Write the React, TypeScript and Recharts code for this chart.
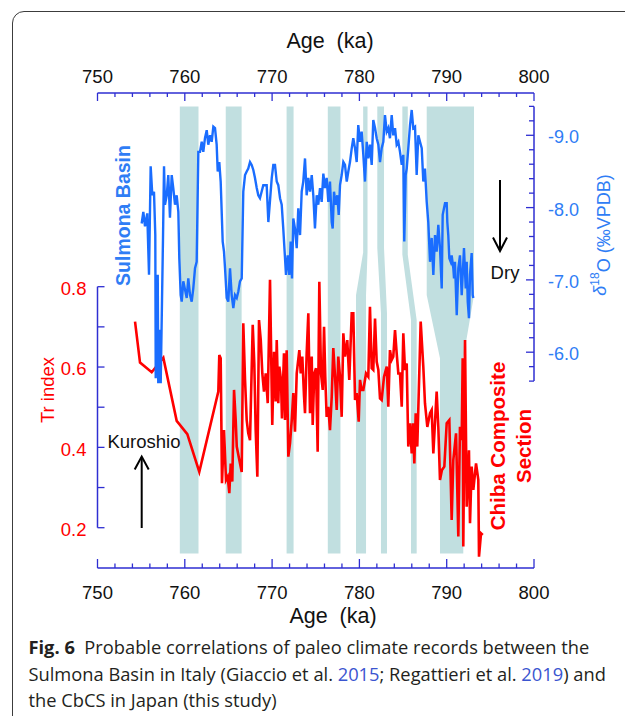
import React from "react";
import { ComposedChart, Line, XAxis, YAxis, ReferenceArea, ReferenceLine } from "recharts";

// ---- axis ticks ----
const AGE_TICKS = [750, 752, 754, 756, 758, 760, 762, 764, 766, 768, 770, 772, 774, 776, 778, 780, 782, 784, 786, 788, 790, 792, 794, 796, 798, 800];
const TR_TICKS = [0.2, 0.3, 0.4, 0.5, 0.6, 0.7, 0.8];
const D18O_TICKS = [-9.4, -9.2, -9.0, -8.8, -8.6, -8.4, -8.2, -8.0, -7.8, -7.6, -7.4, -7.2, -7.0, -6.8, -6.6, -6.4, -6.2, -6.0, -5.8, -5.6];

// ---- Sulmona Basin d18O (ka, permil VPDB) ----
const SULMONA_AGE = [
  755.06, 755.25, 755.44, 755.7, 755.9, 756.09, 756.28, 756.47, 756.62, 756.67,
  756.78, 756.9, 756.96, 757.08, 757.24, 757.39, 757.5, 757.62, 757.73, 757.93,
  758.11, 758.3, 758.5, 758.68, 758.88, 759.07, 759.26, 759.37, 759.53, 759.65,
  759.83, 760.22, 760.4, 760.6, 760.79, 760.97, 761.17, 761.36, 761.55, 761.74,
  761.94, 762.12, 762.31, 762.51, 762.69, 762.89, 763.08, 763.27, 763.46, 763.65,
  763.77, 763.95, 764.11, 764.34, 764.49, 764.61, 764.8, 764.98, 765.18, 765.37,
  765.56, 765.75, 765.95, 766.13, 766.32, 766.52, 766.7, 766.9, 767.09, 767.27,
  767.47, 767.66, 767.85, 768.04, 768.24, 768.42, 768.61, 768.99, 769.38, 769.57,
  769.96, 770.14, 770.33, 770.53, 770.71, 770.91, 771.1, 771.28, 771.48, 771.59,
  771.79, 771.97, 772.13, 772.28, 772.43, 772.62, 772.82, 773.0, 773.2, 773.39,
  773.57, 773.77, 773.96, 774.15, 774.34, 774.54, 774.72, 774.91, 775.11, 775.29,
  775.49, 775.68, 775.87, 776.06, 776.25, 776.44, 776.63, 776.83, 776.94, 777.09,
  777.29, 777.47, 777.63, 777.78, 777.97, 778.16, 778.35, 778.55, 778.73, 778.92,
  779.12, 779.3, 779.5, 779.69, 779.87, 780.07, 780.26, 780.45, 780.64, 780.84,
  781.02, 781.21, 781.41, 781.59, 781.79, 781.98, 782.17, 782.36, 782.55, 782.74,
  782.93, 783.13, 783.31, 783.5, 783.7, 783.88, 784.08, 784.27, 784.46, 784.65,
  784.85, 785.03, 785.14, 785.3, 785.42, 785.6, 785.8, 785.99, 786.17, 786.37,
  786.56, 786.75, 786.94, 787.14, 787.32, 787.51, 787.71, 787.89, 788.09, 788.28,
  788.47, 788.66, 788.85, 789.04, 789.23, 789.43, 789.54, 789.69, 789.81, 790.0,
  790.07, 790.18, 790.3, 790.46, 790.57, 790.76, 790.84, 790.95, 791.15, 791.33,
  791.52, 791.72, 791.83, 791.98, 792.18, 792.29, 792.41, 792.55, 792.67, 792.86,
  792.98, 793.05,
];
const SULMONA_D18O = [
  -7.78, -7.94, -7.74, -7.92, -7.07, -8.57, -8.17, -8.22, -7.62, -5.64,
  -6.38, -7.07, -5.57, -6.31, -5.57, -6.72, -7.55, -8.57, -8.04, -8.17,
  -8.45, -7.86, -8.45, -8.27, -8.04, -8.17, -7.94, -7.3, -6.79, -6.7,
  -6.98, -6.75, -7.02, -6.79, -6.7, -6.88, -7.16, -7.25, -8.77, -8.77,
  -8.91, -8.77, -8.96, -9.07, -8.87, -9.0, -8.91, -9.12, -9.1, -8.87,
  -8.5, -8.63, -8.36, -7.53, -7.39, -7.16, -6.75, -6.7, -7.16, -6.79,
  -6.61, -6.79, -6.75, -6.84, -6.98, -7.02, -8.22, -8.45, -8.5, -8.54,
  -8.63, -8.59, -8.52, -8.41, -8.27, -8.17, -8.13, -8.31, -8.31, -7.8,
  -8.41, -8.59, -8.59, -8.36, -8.31, -8.13, -8.04, -7.71, -7.3, -7.07,
  -7.34, -7.07, -7.53, -7.02, -7.85, -7.71, -7.44, -7.99, -7.62, -8.22,
  -8.36, -8.68, -8.17, -8.41, -8.22, -8.45, -8.17, -7.71, -8.17, -8.04,
  -8.27, -8.08, -8.47, -8.27, -8.41, -8.08, -8.36, -7.8, -7.71, -8.22,
  -8.04, -8.17, -7.9, -8.31, -8.45, -8.63, -8.59, -8.36, -8.5, -8.63,
  -8.82, -8.96, -8.82, -8.63, -9.14, -8.91, -9.05, -8.73, -8.36, -8.91,
  -8.68, -8.87, -8.59, -9.21, -9.1, -8.96, -8.87, -8.63, -8.82, -8.91,
  -9.28, -9.05, -9.1, -8.96, -9.28, -9.0, -9.1, -8.87, -8.91, -8.77,
  -8.59, -8.73, -7.53, -8.45, -8.54, -8.82, -9.14, -9.35, -9.1, -9.12,
  -8.45, -9.0, -8.91, -8.82, -8.36, -8.54, -8.08, -7.8, -7.25, -7.58,
  -7.07, -7.62, -7.39, -7.76, -7.44, -6.88, -7.9, -7.99, -8.06, -8.06,
  -7.8, -7.62, -7.3, -7.25, -7.34, -7.16, -7.02, -7.25, -6.51, -7.16,
  -7.34, -6.79, -7.07, -7.44, -6.88, -7.25, -6.7, -6.47, -7.07, -7.37,
  -6.79, -6.75,
];

// ---- Chiba Composite Section Tr index ----
const CHIBA_AGE = [
  754.3, 754.87, 756.21, 757.54, 759.07, 760.29, 761.66, 763.84, 763.95, 764.11,
  764.26, 764.49, 764.72, 764.91, 765.1, 765.26, 765.44, 765.64, 765.83, 765.95,
  766.24, 766.52, 766.7, 766.9, 767.09, 767.27, 767.47, 767.78, 767.96, 768.12,
  768.31, 768.5, 768.7, 768.88, 769.07, 769.27, 769.5, 769.76, 770.02, 770.22,
  770.41, 770.53, 770.71, 770.83, 771.02, 771.13, 771.36, 771.48, 771.67, 771.86,
  772.05, 772.25, 772.43, 772.62, 772.82, 773.12, 773.28, 773.46, 773.66, 773.77,
  773.96, 774.15, 774.34, 774.54, 774.65, 774.83, 775.03, 775.22, 775.41, 775.6,
  775.8, 775.95, 776.09, 776.25, 776.44, 776.63, 776.83, 777.01, 777.21, 777.4,
  777.58, 777.78, 777.97, 778.16, 778.35, 778.61, 778.84, 779.12, 779.3, 779.5,
  779.69, 779.92, 780.07, 780.26, 780.45, 780.76, 781.02, 781.21, 781.41, 781.59,
  781.79, 781.98, 782.17, 782.36, 782.55, 782.82, 783.13, 783.31, 783.5, 783.7,
  783.88, 784.08, 784.27, 784.46, 784.65, 784.85, 785.03, 785.22, 785.42, 785.6,
  785.8, 785.99, 786.14, 786.29, 786.45, 786.63, 787.02, 787.32, 787.51, 787.78,
  788.09, 788.28, 788.47, 788.85, 789.04, 789.23, 789.46, 789.73, 790.0, 790.3,
  790.57, 790.76, 791.07, 791.33, 791.52, 791.72, 791.83, 791.9, 792.1, 792.29,
  792.55, 792.67, 792.86, 793.05, 793.36, 793.62, 793.7, 793.93, 794.13,
];
const CHIBA_TR = [
  0.713, 0.611, 0.587, 0.623, 0.466, 0.433, 0.339, 0.539, 0.63, 0.622,
  0.311, 0.443, 0.319, 0.327, 0.286, 0.36, 0.315, 0.543, 0.468, 0.402,
  0.369, 0.339, 0.709, 0.568, 0.468, 0.435, 0.418, 0.705, 0.609, 0.443,
  0.327, 0.717, 0.667, 0.584, 0.539, 0.584, 0.51, 0.817, 0.456, 0.638,
  0.514, 0.667, 0.51, 0.601, 0.568, 0.472, 0.634, 0.468, 0.642, 0.377,
  0.41, 0.468, 0.535, 0.439, 0.584, 0.642, 0.584, 0.626, 0.526, 0.485,
  0.634, 0.734, 0.485, 0.626, 0.456, 0.584, 0.597, 0.389, 0.812, 0.584,
  0.543, 0.7, 0.576, 0.476, 0.501, 0.443, 0.526, 0.647, 0.576, 0.493,
  0.626, 0.576, 0.476, 0.684, 0.626, 0.667, 0.568, 0.734, 0.734, 0.518,
  0.535, 0.464, 0.568, 0.543, 0.543, 0.584, 0.576, 0.75, 0.597, 0.593,
  0.721, 0.613, 0.593, 0.522, 0.518, 0.576, 0.601, 0.501, 0.642, 0.618,
  0.626, 0.692, 0.634, 0.584, 0.584, 0.501, 0.684, 0.593, 0.609, 0.402,
  0.46, 0.385, 0.46, 0.36, 0.485, 0.402, 0.713, 0.601, 0.51, 0.451,
  0.485, 0.493, 0.385, 0.539, 0.451, 0.319, 0.344, 0.352, 0.46, 0.468,
  0.219, 0.369, 0.435, 0.178, 0.451, 0.418, 0.622, 0.153, 0.667, 0.252,
  0.393, 0.211, 0.352, 0.294, 0.36, 0.319, 0.128, 0.186, 0.182,
];

// ---- correlation bands (ka on each record, plus where the band bends) ----
const BAND_SULMONA_FROM = [759.43, 764.69, 771.66, 776.38, 780.43, 782.05, 784.92, 787.71];
const BAND_SULMONA_TO = [761.57, 766.51, 772.46, 777.83, 780.93, 782.82, 785.54, 793.13];
const BAND_CHIBA_FROM = [759.43, 764.69, 771.66, 776.38, 779.61, 782.47, 785.91, 789.23];
const BAND_CHIBA_TO = [761.57, 766.51, 772.46, 777.83, 780.76, 783.16, 786.56, 791.9];
const BAND_BEND_D18O = [-7.0, -7.0, -7.0, -7.0, -7.38, -7.44, -7.35, -6.79];
const BAND_BEND_TR = [0.8, 0.8, 0.8, 0.8, 0.779, 0.734, 0.717, 0.622];
const BAND_TOP_D18O = -9.4;
const BAND_BASE_TR = 0.136;

const TR_DOMAIN = [0.0997, 1.2822];
const D18O_DOMAIN = [-9.585, -3.015];

const sulmona = SULMONA_AGE.map((age, i) => ({ age, d18o: SULMONA_D18O[i] }));
const chiba = CHIBA_AGE.map((age, i) => ({ age, tr: CHIBA_TR[i] }));

const AXIS = "#2e2ed2";
const BLUE = "#1a6dff";
const BLUE_TEXT = "#2f7df5";
const RED = "#ff0000";
const BAND = "#c1dfe0";
const FONT = "'Liberation Sans', Arial, Helvetica, sans-serif";

function TopTick(p: any) {
  const { x, y, payload } = p;
  const major = payload.value % 10 === 0;
  return (
    <g>
      <line x1={x} y1={y} x2={x} y2={y + (major ? 8 : 4)} stroke={AXIS} strokeWidth={1.3} />
      {major && (
        <text x={x} y={y - 17} dy="0.36em" textAnchor="middle" fontSize={18.5} fill="#111" fontFamily={FONT}>
          {payload.value}
        </text>
      )}
    </g>
  );
}

function BottomTick(p: any) {
  const { x, y, payload } = p;
  const major = payload.value % 10 === 0;
  return (
    <g>
      <line x1={x} y1={y} x2={x} y2={y - (major ? 9 : 4.5)} stroke={AXIS} strokeWidth={1.3} />
      {major && (
        <text x={x} y={y + 24} dy="0.36em" textAnchor="middle" fontSize={18.5} fill="#111" fontFamily={FONT}>
          {payload.value}
        </text>
      )}
    </g>
  );
}

function TrTick(p: any) {
  const { x, y, payload } = p;
  const v = payload.value;
  const labelled = Math.round(v * 10) % 2 === 0;
  return (
    <g>
      <line x1={x} y1={y} x2={x + 7} y2={y} stroke={AXIS} strokeWidth={1.3} />
      {labelled && (
        <text x={x - 11} y={y + 1.5} dy="0.36em" textAnchor="end" fontSize={18.5} fill={RED} fontFamily={FONT}>
          {v.toFixed(1)}
        </text>
      )}
    </g>
  );
}

function D18oTick(p: any) {
  const { x, y, payload } = p;
  const v = payload.value;
  const major = Math.abs(v - Math.round(v)) < 1e-6;
  return (
    <g>
      <line x1={x} y1={y} x2={x - (major ? 8 : 5)} y2={y} stroke={AXIS} strokeWidth={1.3} />
      {major && (
        <text x={x + 14} y={y + 1.5} dy="0.36em" textAnchor="start" fontSize={18} fill={BLUE_TEXT} fontFamily={FONT}>
          {v.toFixed(1)}
        </text>
      )}
    </g>
  );
}

function bandShape(i: number, lo: number, hi: number) {
  return (p: any) => {
    const { x, y, width, height } = p;
    const ax = (a: number) => x + ((a - lo) / (hi - lo)) * width;
    const ty = (t: number) => y + ((TR_DOMAIN[1] - t) / (TR_DOMAIN[1] - TR_DOMAIN[0])) * height;
    const dy = (d: number) => y + ((d - D18O_DOMAIN[0]) / (D18O_DOMAIN[1] - D18O_DOMAIN[0])) * height;
    const pts = [
      [ax(BAND_SULMONA_FROM[i]), dy(BAND_TOP_D18O)],
      [ax(BAND_SULMONA_TO[i]), dy(BAND_TOP_D18O)],
      [ax(BAND_SULMONA_TO[i]), dy(BAND_BEND_D18O[i])],
      [ax(BAND_CHIBA_TO[i]), ty(BAND_BEND_TR[i])],
      [ax(BAND_CHIBA_TO[i]), ty(BAND_BASE_TR)],
      [ax(BAND_CHIBA_FROM[i]), ty(BAND_BASE_TR)],
      [ax(BAND_CHIBA_FROM[i]), ty(BAND_BEND_TR[i])],
      [ax(BAND_SULMONA_FROM[i]), dy(BAND_BEND_D18O[i])],
    ];
    return <polygon points={pts.map((q) => q.join(",")).join(" ")} fill={BAND} stroke="none" />;
  };
}

export default function App() {
  const txt = { fontFamily: FONT };
  return (
    <div style={{ position: "absolute", left: 0, top: 0, width: 625, height: 716, overflow: "hidden", background: "#fff" }}>
      <div
        style={{
          position: "absolute",
          left: 12,
          top: 11,
          width: 700,
          height: 800,
          border: "1.5px solid #3c3c3c",
          borderRadius: 12,
        }}
      />
      <div style={{ position: "absolute", left: 0, top: 0 }}>
        {/* axes get 1px of room: Recharts skips drawing an axis whose size is 0 */}
        <ComposedChart width={625} height={716} margin={{ top: 92, right: 90, bottom: 147, left: 96.5 }}>
          <XAxis
            xAxisId="bottom"
            dataKey="age"
            type="number"
            orientation="bottom"
            domain={[750, 800]}
            allowDataOverflow
            ticks={AGE_TICKS}
            interval={0}
            height={1}
            tickSize={0}
            tickMargin={0}
            axisLine={{ stroke: AXIS, strokeWidth: 1.5 }}
            tickLine={false}
            tick={(p: any) => <BottomTick {...p} />}
          />
          <XAxis
            xAxisId="top"
            dataKey="age"
            type="number"
            orientation="top"
            domain={[750, 800]}
            allowDataOverflow
            ticks={AGE_TICKS}
            interval={0}
            height={1}
            tickSize={0}
            tickMargin={0}
            axisLine={{ stroke: AXIS, strokeWidth: 1.5 }}
            tickLine={false}
            tick={(p: any) => <TopTick {...p} />}
          />
          <YAxis
            yAxisId="tr"
            type="number"
            orientation="left"
            domain={TR_DOMAIN}
            allowDataOverflow
            ticks={TR_TICKS}
            interval={0}
            width={1}
            tickSize={0}
            tickMargin={0}
            axisLine={false}
            tickLine={false}
            tick={(p: any) => <TrTick {...p} />}
          />
          <YAxis
            yAxisId="d18o"
            type="number"
            orientation="right"
            domain={D18O_DOMAIN}
            reversed
            allowDataOverflow
            ticks={D18O_TICKS}
            interval={0}
            width={1}
            tickSize={0}
            tickMargin={0}
            axisLine={false}
            tickLine={false}
            tick={(p: any) => <D18oTick {...p} />}
          />
          {BAND_SULMONA_FROM.map((_, i) => {
            const lo = Math.min(BAND_SULMONA_FROM[i], BAND_CHIBA_FROM[i]);
            const hi = Math.max(BAND_SULMONA_TO[i], BAND_CHIBA_TO[i]);
            return (
              <ReferenceArea
                key={i}
                xAxisId="bottom"
                yAxisId="tr"
                x1={lo}
                x2={hi}
                y1={TR_DOMAIN[0]}
                y2={TR_DOMAIN[1]}
                shape={bandShape(i, lo, hi)}
                ifOverflow="visible"
              />
            );
          })}
          <ReferenceLine
            xAxisId="bottom"
            yAxisId="tr"
            segment={[{ x: 750, y: 0.2 }, { x: 750, y: 0.8 }]}
            stroke={AXIS}
            strokeWidth={1.5}
          />
          <ReferenceLine
            xAxisId="bottom"
            yAxisId="d18o"
            segment={[{ x: 800, y: -9.4 }, { x: 800, y: -5.6 }]}
            stroke={AXIS}
            strokeWidth={1.5}
          />
          <Line
            xAxisId="bottom"
            yAxisId="tr"
            data={chiba}
            dataKey="tr"
            type="linear"
            stroke={RED}
            strokeWidth={2.6}
            dot={false}
            isAnimationActive={false}
          />
          <Line
            xAxisId="bottom"
            yAxisId="d18o"
            data={sulmona}
            dataKey="d18o"
            type="linear"
            stroke={BLUE}
            strokeWidth={2.4}
            dot={false}
            isAnimationActive={false}
          />
        </ComposedChart>
      </div>
      <svg width={625} height={716} style={{ position: "absolute", left: 0, top: 0, pointerEvents: "none" }}>
        <text x={330} y={40} dy="0.36em" textAnchor="middle" fontSize={21.5} fill="#111" {...txt} xmlSpace="preserve">
          Age  (ka)
        </text>
        <text x={333} y={615} dy="0.36em" textAnchor="middle" fontSize={21.5} fill="#111" {...txt} xmlSpace="preserve">
          Age  (ka)
        </text>
        <text transform="translate(47,390) rotate(-90)" dy="0.36em" textAnchor="middle" fontSize={18.5} fill={RED} {...txt}>
          Tr index
        </text>
        <text transform="translate(123,215.5) rotate(-90)" dy="0.36em" textAnchor="middle" fontSize={19.5} fontWeight="bold" fill={BLUE_TEXT} {...txt}>
          Sulmona Basin
        </text>
        <text transform="translate(498,446) rotate(-90)" dy="0.36em" textAnchor="middle" fontSize={20.5} fontWeight="bold" fill={RED} {...txt}>
          Chiba Composite
        </text>
        <text transform="translate(524,446) rotate(-90)" dy="0.36em" textAnchor="middle" fontSize={20.5} fontWeight="bold" fill={RED} {...txt}>
          Section
        </text>
        <text transform="translate(600,235) rotate(-90)" dy="0.36em" textAnchor="middle" fontSize={18} fill={BLUE_TEXT} {...txt}>
          <tspan fontStyle="italic">δ</tspan>
          <tspan fontSize={12} dy="-0.6em">18</tspan>
          <tspan dy="0.6em">O (‰VPDB)</tspan>
        </text>
        <text x={505} y={272} dy="0.36em" textAnchor="middle" fontSize={18.5} fill="#111" {...txt}>
          Dry
        </text>
        <line x1={500} y1={180} x2={500} y2={250} stroke="#000" strokeWidth={2} />
        <polyline points="493,237.5 500,251 507,237.5" fill="none" stroke="#000" strokeWidth={2} />
        <text x={144} y={441} dy="0.36em" textAnchor="middle" fontSize={18.5} fill="#111" {...txt}>
          Kuroshio
        </text>
        <line x1={141.7} y1={528} x2={141.7} y2={458} stroke="#000" strokeWidth={2} />
        <polyline points="134.7,469.5 141.7,456.5 148.7,469.5" fill="none" stroke="#000" strokeWidth={2} />
      </svg>
      <div
        style={{
          position: "absolute",
          left: 28.5,
          top: 634,
          fontFamily: "'Open Sans', 'Noto Sans', sans-serif",
          fontSize: 18.3,
          lineHeight: "26.6px",
          color: "#231f20",
          whiteSpace: "nowrap",
        }}
      >
        <div>
          <b>Fig. 6</b>&nbsp; Probable correlations of paleo climate records between the
        </div>
        <div>
          Sulmona Basin in Italy (Giaccio et al. <span style={{ color: "#3b55d0" }}>2015</span>; Regattieri et al.{" "}
          <span style={{ color: "#3b55d0" }}>2019</span>) and
        </div>
        <div>the CbCS in Japan (this study)</div>
      </div>
    </div>
  );
}
